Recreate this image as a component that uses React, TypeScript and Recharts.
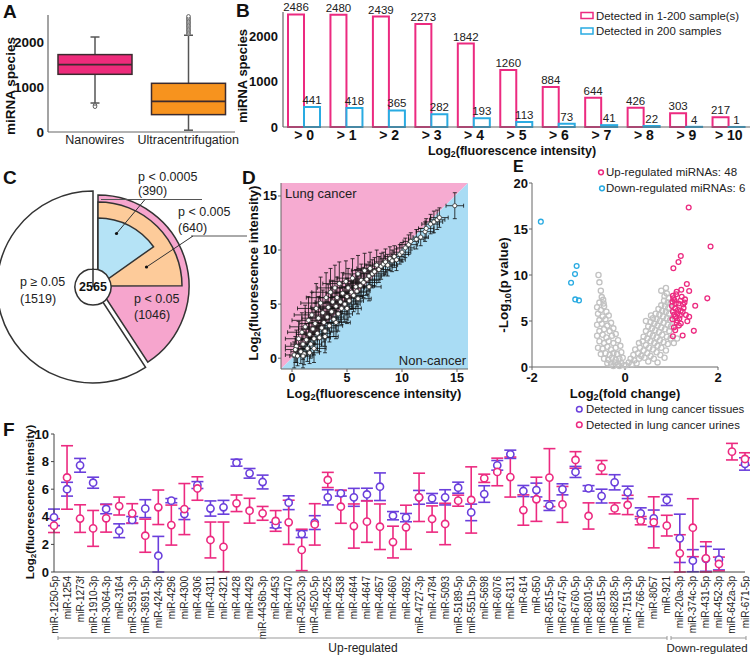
import React from "react";
import {
  Bar,
  BarChart,
  Cell,
  ComposedChart,
  ErrorBar,
  LabelList,
  Line,
  Pie,
  PieChart,
  ReferenceArea,
  Scatter,
  XAxis,
  YAxis,
} from "recharts";

const FONT = '"Liberation Sans", Arial, Helvetica, sans-serif';
const PINK = "#ec2a80";
const CYAN = "#29abe2";
const PURPLE = "#6a3fdc";
const INK = "#111";
const AXIS = "#666";

// ---- A: box plots
const boxGroups = ["Nanowires", "Ultracentrifugation"];
const boxLow = [644, 40];
const boxQ1 = [1282, 386];
const boxMedian = [1497, 682];
const boxQ3 = [1720, 1082];
const boxHigh = [2111, 2150];
const boxOutliers = [
  [592, 562],
  [2180, 2210, 2240, 2270, 2300, 2330, 2360, 2390, 2420, 2450, 2480, 2510, 2540, 2570],
];
const boxFills = ["#ee2b7b", "#f7931e"];

// ---- B: detected species by threshold
const thresholds = ["> 0", "> 1", "> 2", "> 3", "> 4", "> 5", "> 6", "> 7", "> 8", "> 9", "> 10"];
const inAnySample = [2486, 2480, 2439, 2273, 1842, 1260, 884, 644, 426, 303, 217];
const inAllSamples = [441, 418, 365, 282, 193, 113, 73, 41, 22, 4, 1];

// ---- C: p-value breakdown
const pTotal = 2565;
const pNotSig = 1519;
const pUnder05 = 1046;
const pUnder005 = 640;
const pUnder0005 = 390;

// ---- D: lung cancer vs non-cancer, [x, y, xErr, yErr]
const fluorPairs = [
  [0.2, 0.3, 0.8, 1.2], [0.4, 1.1, 1.0, 1.5], [0.5, 0.2, 0.7, 0.9], [0.6, 1.8, 1.2, 1.6],
  [0.8, 0.6, 0.9, 1.1], [0.9, 2.4, 1.3, 1.8], [1.0, 1.3, 1.1, 1.4], [1.1, 0.4, 0.8, 1.0],
  [1.2, 2.9, 1.4, 2.0], [1.3, 1.7, 1.0, 1.5], [1.4, 0.9, 0.9, 1.2], [1.5, 3.5, 1.5, 2.2],
  [1.6, 2.2, 1.2, 1.6], [1.7, 1.3, 1.0, 1.3], [1.8, 4.0, 1.6, 2.1], [1.9, 2.7, 1.3, 1.8],
  [2.0, 1.8, 1.1, 1.5], [2.1, 3.2, 1.4, 1.9], [2.2, 4.6, 1.7, 2.3], [2.3, 2.3, 1.2, 1.6],
  [2.4, 3.7, 1.5, 2.0], [2.5, 1.9, 1.0, 1.3], [2.6, 5.1, 1.8, 2.4], [2.7, 2.8, 1.3, 1.7],
  [2.8, 4.2, 1.6, 2.1], [2.9, 3.3, 1.4, 1.8], [3.0, 2.5, 1.1, 1.4], [3.1, 5.6, 1.8, 2.3],
  [3.2, 3.8, 1.5, 1.9], [3.3, 4.7, 1.6, 2.1], [3.4, 3.0, 1.2, 1.5], [3.5, 6.1, 1.7, 2.2],
  [3.6, 4.3, 1.5, 1.9], [3.7, 5.2, 1.6, 2.0], [3.8, 3.6, 1.3, 1.6], [3.9, 6.5, 1.6, 2.1],
  [4.0, 4.8, 1.5, 1.8], [4.1, 5.6, 1.6, 1.9], [4.2, 4.1, 1.3, 1.6], [4.3, 6.9, 1.5, 2.0],
  [4.4, 5.2, 1.4, 1.8], [4.5, 4.6, 1.3, 1.5], [4.6, 6.0, 1.5, 1.9], [4.8, 5.0, 1.4, 1.6],
  [4.9, 7.1, 1.5, 1.9], [5.0, 5.7, 1.4, 1.7], [5.1, 6.5, 1.5, 1.8], [5.2, 5.3, 1.3, 1.5],
  [5.4, 6.1, 1.4, 1.6], [5.5, 7.4, 1.4, 1.8], [5.6, 5.8, 1.3, 1.5], [5.8, 6.6, 1.3, 1.6],
  [5.9, 6.2, 1.2, 1.4], [6.0, 7.8, 1.3, 1.7], [6.2, 6.7, 1.3, 1.5], [6.3, 7.2, 1.2, 1.5],
  [6.5, 7.0, 1.2, 1.4], [6.6, 8.1, 1.2, 1.6], [6.8, 7.3, 1.2, 1.4], [7.0, 7.6, 1.1, 1.3],
  [7.1, 8.3, 1.2, 1.5], [7.3, 7.8, 1.1, 1.3], [7.5, 8.0, 1.1, 1.3], [7.7, 8.6, 1.1, 1.4],
  [7.9, 8.2, 1.0, 1.2], [8.1, 8.5, 1.0, 1.2], [8.3, 8.7, 1.0, 1.1], [8.5, 8.9, 1.0, 1.2],
  [8.7, 8.6, 0.9, 1.0], [8.9, 9.2, 0.9, 1.1], [9.1, 9.0, 0.9, 1.0], [9.3, 9.4, 0.9, 1.0],
  [9.5, 9.1, 0.8, 1.0], [9.8, 9.6, 0.8, 0.9], [10.0, 9.8, 0.8, 0.9], [10.3, 10.2, 0.8, 0.9],
  [10.6, 10.5, 0.8, 0.9], [10.8, 10.8, 0.7, 0.8], [11.3, 11.0, 0.7, 0.9], [11.7, 11.2, 0.7, 0.8],
  [12.1, 11.7, 0.8, 0.9], [12.2, 12.0, 0.7, 0.9], [12.6, 12.4, 0.8, 0.9], [12.9, 12.6, 0.8, 1.0],
  [13.2, 12.8, 0.7, 0.9], [13.4, 13.0, 0.8, 0.9], [14.8, 14.1, 0.8, 1.2], [1.0, 0.2, 0.9, 1.1],
  [3.0, 2.0, 1.2, 1.5], [4.0, 3.3, 1.3, 1.5], [5.0, 4.6, 1.3, 1.4], [6.0, 5.5, 1.2, 1.4],
  [7.0, 6.6, 1.1, 1.3], [2.0, 0.9, 1.1, 1.3], [0.3, 0.8, 0.9, 1.2], [1.6, 0.5, 0.9, 1.0],
];

// ---- E: volcano plot, [log2 fold change, -log10 p]
const volcanoGray = [
  [-0.57, 10.0], [-0.55, 9.2], [-0.52, 8.3], [-0.5, 7.6], [-0.55, 7.0], [-0.47, 7.3], [-0.45, 6.6],
  [-0.52, 6.2], [-0.58, 5.8], [-0.4, 6.0], [-0.48, 5.5], [-0.55, 5.1], [-0.42, 5.2], [-0.35, 5.6],
  [-0.6, 4.6], [-0.5, 4.7], [-0.38, 4.5], [-0.3, 4.8], [-0.45, 4.1], [-0.55, 3.9], [-0.33, 3.9],
  [-0.25, 4.2], [-0.6, 3.4], [-0.48, 3.5], [-0.4, 3.2], [-0.28, 3.4], [-0.2, 3.6], [-0.55, 2.8],
  [-0.45, 2.6], [-0.35, 2.8], [-0.25, 2.6], [-0.15, 2.9], [-0.58, 2.1], [-0.48, 2.0], [-0.38, 2.2],
  [-0.3, 1.9], [-0.2, 2.1], [-0.1, 2.3], [-0.52, 1.4], [-0.42, 1.5], [-0.33, 1.3], [-0.25, 1.5],
  [-0.17, 1.4], [-0.08, 1.6], [-0.45, 0.9], [-0.36, 0.8], [-0.28, 1.0], [-0.2, 0.8], [-0.12, 0.9],
  [-0.05, 1.0], [-0.38, 0.4], [-0.3, 0.3], [-0.22, 0.5], [-0.15, 0.3], [-0.08, 0.4], [-0.02, 0.2],
  [-0.25, 0.1], [-0.12, 0.1], [-0.46, 6.9], [-0.6, 6.5],
  [0.02, 0.2], [0.08, 0.5], [0.15, 0.3], [0.12, 0.9], [0.2, 0.7], [0.25, 0.4], [0.3, 0.9],
  [0.18, 1.3], [0.28, 1.5], [0.35, 1.2], [0.42, 1.0], [0.5, 0.6], [0.22, 1.9], [0.32, 2.1],
  [0.4, 1.8], [0.48, 1.5], [0.55, 1.2], [0.62, 0.9], [0.7, 0.5], [0.3, 2.6], [0.38, 2.8],
  [0.45, 2.4], [0.52, 2.1], [0.6, 1.9], [0.68, 1.6], [0.76, 1.3], [0.85, 1.0], [0.4, 3.3],
  [0.48, 3.1], [0.55, 2.8], [0.63, 2.6], [0.7, 2.3], [0.78, 2.1], [0.88, 1.8], [0.45, 3.9],
  [0.53, 3.6], [0.6, 3.4], [0.68, 3.2], [0.75, 2.9], [0.83, 2.7], [0.92, 2.5], [0.5, 4.4],
  [0.58, 4.2], [0.65, 4.0], [0.73, 3.8], [0.8, 3.5], [0.9, 3.3], [0.98, 3.1], [0.55, 4.9],
  [0.63, 4.7], [0.7, 4.5], [0.78, 4.3], [0.86, 4.1], [0.95, 3.9], [0.6, 5.3], [0.68, 5.2],
  [0.75, 5.0], [0.83, 4.8], [0.92, 4.6], [0.99, 4.4], [0.66, 5.8], [0.74, 5.7], [0.82, 5.5],
  [0.9, 5.3], [0.97, 5.1], [0.72, 6.3], [0.8, 6.1], [0.88, 6.0], [0.95, 5.8], [0.78, 6.7],
  [0.86, 6.6], [0.93, 6.4], [0.84, 7.2], [0.92, 7.0], [0.98, 6.9], [0.85, 7.7], [0.94, 7.5],
  [0.78, 8.3], [0.9, 8.0], [0.88, 8.6], [1.12, 3.1], [1.05, 2.6], [0.56, 5.6], [0.45, 5.0],
];
const volcanoUp = [
  [1.37, 17.34], [1.84, 13.09], [1.2, 12.07], [1.15, 11.42], [1.04, 10.73], [1.33, 9.02],
  [1.11, 8.18], [1.38, 8.26], [1.77, 7.46], [1.03, 7.75], [1.22, 7.64], [1.29, 7.35],
  [1.06, 7.27], [1.15, 6.91], [1.01, 6.62], [1.25, 6.8], [1.51, 6.65], [1.08, 6.37],
  [1.2, 6.11], [1.03, 6.0], [1.13, 5.82], [1.24, 6.0], [1.31, 5.64], [1.08, 5.45],
  [1.38, 5.45], [1.17, 5.27], [1.34, 4.98], [1.11, 4.8], [1.2, 4.73], [1.48, 3.93],
  [1.08, 4.0], [1.03, 3.35], [1.24, 3.42], [1.04, 7.46], [1.02, 7.1], [1.09, 6.9],
  [1.14, 6.2], [1.06, 5.7], [1.18, 5.6], [1.26, 6.4], [1.1, 7.9], [1.21, 8.4],
  [1.16, 4.5], [1.02, 5.2], [1.28, 7.0], [1.12, 5.05], [1.05, 4.3], [1.19, 7.2],
];
const volcanoDown = [
  [-1.81, 15.8], [-1.04, 10.98], [-1.075, 10.1], [-1.16, 9.16], [-1.07, 7.35], [-0.99, 7.24],
];

// ---- F: candidate miRNAs
const mirNames = [
  "miR-1250-5p", "miR-1254", "miR-1273f", "miR-1910-3p", "miR-3064-3p", "miR-3164",
  "miR-3591-3p", "miR-3691-5p", "miR-424-3p", "miR-4296", "miR-4300", "miR-4306",
  "miR-4311", "miR-4321", "miR-4428", "miR-4429", "miR-4436b-3p", "miR-4453",
  "miR-4470", "miR-4520-3p", "miR-4520-5p", "miR-4525", "miR-4538", "miR-4644",
  "miR-4647", "miR-4657", "miR-4660", "miR-4692", "miR-4727-3p", "miR-4784",
  "miR-5093", "miR-5189-5p", "miR-551b-5p", "miR-5698", "miR-6076", "miR-6131",
  "miR-614", "miR-650", "miR-6515-5p", "miR-6747-5p", "miR-6760-5p", "miR-6801-5p",
  "miR-6815-5p", "miR-6828-5p", "miR-7151-3p", "miR-766-5p", "miR-8057", "miR-921",
  "miR-20a-3p", "miR-374c-3p", "miR-431-5p", "miR-452-3p", "miR-642a-3p", "miR-671-5p",
];
const tissueMean = [
  3.96, 6.0, 7.73, 6.47, 4.57, 2.99, 3.77, 4.59, 1.18, 5.17, 4.2, 6.3,
  4.6, 4.69, 7.92, 7.15, 6.52, 3.4, 5.02, 2.75, 3.58, 5.41, 5.7, 5.41,
  5.62, 6.18, 4.08, 3.94, 5.41, 5.34, 5.41, 6.11, 4.32, 5.65, 7.73, 8.53,
  5.87, 5.94, 4.81, 5.99, 7.25, 6.06, 5.5, 6.5, 5.77, 4.25, 3.89, 5.22,
  2.44, 0.82, 0.95, 0.9, null, 7.83,
];
const tissueSd: any[] = [
  0.6, 0.5, 0.5, 0.4, 0.35, 0.5, 0.25, 0.65, [1.18, 1.4], 0.15, 0.4, 0.25,
  0.55, 0.5, 0.25, 0.35, 0.5, 0.2, 0.5, 0.25, 0.5, 0.55, 0.2, 0.65,
  0.45, 1.0, 0.3, 0.3, 0.5, 0.35, 0.55, 0.4, 0.6, 0.6, 0.35, 0.3,
  0.4, 0.5, 0.35, 0.4, 0.4, 0.2, 0.5, 0.55, 0.45, 0.4, 0.6, 0.4,
  1.75, 0.8, 0.9, 0.75, null, 0.45,
];
const urineMean = [
  3.36, 6.85, 3.87, 3.16, 3.89, 4.78, 4.25, 2.63, 4.69, 3.4, 4.56, 6.05,
  2.32, 1.82, 4.98, 4.44, 4.25, 3.7, 3.6, 1.6, 3.45, 6.67, 4.73, 3.33,
  3.65, 3.28, 2.17, 3.24, 5.41, 3.84, 3.48, 5.17, 5.22, 6.79, 7.25, 6.88,
  4.49, 5.27, 6.84, 4.9, 8.12, 4.06, 7.58, 4.61, 4.86, 3.72, 3.6, 3.36,
  1.35, 3.21, 0.99, 0.58, 8.72, 8.19,
];
const urineSd: any[] = [
  0.5, 2.3, 1.0, 1.3, 1.0, 0.65, 0.7, 1.2, 1.25, 1.45, 1.85, 0.85,
  1.3, 1.8, 0.6, 0.9, 0.5, 0.75, 1.6, 1.5, 1.5, 0.55, 1.2, 1.6,
  1.5, 1.65, 1.15, 1.6, 1.75, 0.95, 1.5, 0.4, 2.4, 0.3, 1.0, 1.45,
  1.1, 1.6, 2.1, 1.3, 0.6, 0.95, 0.5, 0.4, 0.7, 0.3, 1.85, 0.75,
  1.35, 2.1, [0.99, 1.2], 0.5, 0.6, 0.45,
];

const boldTick = (size: number) => ({ fill: INK, fontSize: size, fontWeight: 700, fontFamily: FONT });

function BoxShape(props: any) {
  const { x, y, width, height, payload, fill } = props;
  const [lo, hi] = payload.range;
  const top = Math.min(y, y + height);
  const k = Math.abs(height) / (hi - lo);
  const py = (v: number) => top + (hi - v) * k;
  const cx = x + width / 2;
  const edge = "#3b2b2f";
  return (
    <g>
      <line x1={cx} x2={cx} y1={py(hi)} y2={py(payload.q3)} stroke="#555" strokeWidth={1.5} />
      <line x1={cx} x2={cx} y1={py(payload.q1)} y2={py(lo)} stroke="#555" strokeWidth={1.5} />
      <line x1={cx - 4.5} x2={cx + 4.5} y1={py(hi)} y2={py(hi)} stroke="#555" strokeWidth={1.5} />
      <line x1={cx - 4.5} x2={cx + 4.5} y1={py(lo)} y2={py(lo)} stroke="#555" strokeWidth={1.5} />
      <rect x={x} y={py(payload.q3)} width={width} height={py(payload.q1) - py(payload.q3)} fill={fill} stroke={edge} strokeWidth={1.5} />
      <line x1={x} x2={x + width} y1={py(payload.median)} y2={py(payload.median)} stroke={edge} strokeWidth={1.8} />
      {payload.outliers.map((o: number, i: number) => (
        <circle key={i} cx={cx} cy={py(o)} r={1.8} fill="#fff" stroke="#555" strokeWidth={0.9} />
      ))}
    </g>
  );
}

function PanelA() {
  const rows = boxGroups.map((name, i) => ({
    name,
    range: [boxLow[i], boxHigh[i]],
    q1: boxQ1[i],
    median: boxMedian[i],
    q3: boxQ3[i],
    outliers: boxOutliers[i],
  }));
  return (
    <div style={{ position: "absolute", left: 0, top: 0 }}>
      <BarChart width={240} height={150} data={rows} margin={{ top: 15, right: 5, left: 0, bottom: 0 }}>
        <XAxis dataKey="name" height={18} tickLine={false} tickSize={0} tickMargin={3} axisLine={{ stroke: AXIS, strokeWidth: 1.2 }} tick={{ fill: "#222", fontSize: 12.5, fontFamily: FONT }} />
        <YAxis domain={[0, 2600]} ticks={[0, 1000, 2000]} width={48} tickLine={false} tickSize={0} tickMargin={4} axisLine={{ stroke: AXIS, strokeWidth: 1.2 }} tick={boldTick(13.5)} />
        <Bar dataKey="range" barSize={74} shape={BoxShape} isAnimationActive={false}>
          {rows.map((r, i) => (
            <Cell key={r.name} fill={boxFills[i]} />
          ))}
        </Bar>
      </BarChart>
    </div>
  );
}

function PanelB() {
  const rows = thresholds.map((t, i) => ({ t, any: inAnySample[i], all: inAllSamples[i] }));
  return (
    <div style={{ position: "absolute", left: 240, top: 0 }}>
      <BarChart width={510} height={150} data={rows} margin={{ top: 12, right: 0, left: 0, bottom: 0 }} barGap={0} barSize={16}>
        <XAxis dataKey="t" height={23} tickLine={false} tickSize={0} tickMargin={3} axisLine={{ stroke: AXIS, strokeWidth: 1.2 }} tick={boldTick(14)} interval={0} />
        <YAxis domain={[0, 2540]} ticks={[0, 1000, 2000]} width={43} tickLine={false} tickSize={0} tickMargin={5} axisLine={{ stroke: AXIS, strokeWidth: 1.2 }} tick={boldTick(13)} />
        <Bar dataKey="any" fill="#fff" stroke={PINK} strokeWidth={2} isAnimationActive={false}>
          <LabelList dataKey="any" position="top" offset={3} fontSize={11.5} fill="#222" fontFamily={FONT} />
        </Bar>
        <Bar dataKey="all" fill="#fff" stroke={CYAN} strokeWidth={2} isAnimationActive={false}>
          <LabelList dataKey="all" position="top" offset={3} fontSize={11.5} fill="#222" fontFamily={FONT} />
        </Bar>
      </BarChart>
    </div>
  );
}

function PanelC() {
  const outer = [
    { name: "p < 0.05", value: pUnder05 },
    { name: "p ≥ 0.05", value: pNotSig },
  ];
  const mid = [
    { name: "p < 0.005", value: pUnder005 },
    { name: "rest", value: pTotal - pUnder005 },
  ];
  const inner = [
    { name: "p < 0.0005", value: pUnder0005 },
    { name: "rest", value: pTotal - pUnder0005 },
  ];
  const edge = "#333";
  const common = { startAngle: 90, endAngle: -270, dataKey: "value", isAnimationActive: false, label: false, labelLine: false } as any;
  return (
    <div style={{ position: "absolute", left: 0, top: 185 }}>
      <PieChart width={200} height={210} margin={{ top: 0, right: 0, bottom: 0, left: 0 }}>
        <Pie {...common} data={outer} cx={93} cy={102} outerRadius={96}>
          <Cell fill="none" stroke="none" />
          <Cell fill="#fff" stroke={edge} strokeWidth={1.5} />
        </Pie>
        <Pie {...common} data={outer} cx={98} cy={101} outerRadius={91}>
          <Cell fill="#f6a5cd" stroke={edge} strokeWidth={1.5} />
          <Cell fill="none" stroke="none" />
        </Pie>
        <Pie {...common} data={mid} cx={98} cy={101} outerRadius={84}>
          <Cell fill="#fdcb9a" stroke={edge} strokeWidth={1.5} />
          <Cell fill="none" stroke="none" />
        </Pie>
        <Pie {...common} data={inner} cx={98} cy={101} outerRadius={68}>
          <Cell fill="#b5e3f6" stroke={edge} strokeWidth={1.5} />
          <Cell fill="none" stroke="none" />
        </Pie>
        <Pie {...common} data={[{ name: "total", value: pTotal }]} cx={93} cy={102} outerRadius={18}>
          <Cell fill="#fff" stroke={edge} strokeWidth={1.5} />
        </Pie>
      </PieChart>
    </div>
  );
}

function SplitBackground(props: any) {
  const { x, y, width, height } = props;
  const l = x;
  const r = x + width;
  const t = y;
  const b = y + height;
  return (
    <g>
      <polygon points={`${l},${b} ${l},${t} ${r},${t}`} fill="#f6abd1" />
      <polygon points={`${l},${b} ${r},${b} ${r},${t}`} fill="#a9dcf4" />
    </g>
  );
}

function PanelD() {
  const rows = fluorPairs.map(([x, y, ex, ey]) => ({ x, y, ex, ey }));
  return (
    <div style={{ position: "absolute", left: 240, top: 175 }}>
      <ComposedChart width={232} height={220} margin={{ top: 8, right: 4, left: 0, bottom: 0 }}>
        <XAxis type="number" dataKey="x" domain={[-1, 16]} ticks={[0, 5, 10, 15]} height={26} tickSize={3} tickMargin={1} stroke={AXIS} tick={boldTick(12.5)} />
        <YAxis type="number" dataKey="y" domain={[-1, 16.2]} ticks={[0, 5, 10, 15]} width={41} tickSize={3} tickMargin={1} stroke={AXIS} tick={boldTick(12.5)} />
        <ReferenceArea x1={-1} x2={16} y1={-1} y2={16.2} ifOverflow="visible" shape={SplitBackground} />
        <Scatter
          data={rows}
          isAnimationActive={false}
          shape={(p: any) => <circle cx={p.cx} cy={p.cy} r={2.1} fill="#fff" stroke="#333" strokeWidth={0.8} />}
        >
          <ErrorBar dataKey="ex" direction="x" width={2} stroke="#111" strokeWidth={0.8} />
          <ErrorBar dataKey="ey" direction="y" width={2} stroke="#111" strokeWidth={0.8} />
        </Scatter>
      </ComposedChart>
    </div>
  );
}

function ring(color: string, r: number) {
  return (p: any) => <circle cx={p.cx} cy={p.cy} r={r} fill="none" stroke={color} strokeWidth={1.3} />;
}

function PanelE() {
  const toRows = (list: number[][]) => list.map(([x, y]) => ({ x, y }));
  return (
    <div style={{ position: "absolute", left: 490, top: 175 }}>
      <ComposedChart width={240} height={215} margin={{ top: 8, right: 12, left: 0, bottom: 0 }}>
        <XAxis type="number" dataKey="x" domain={[-2, 2]} ticks={[-2, 0, 2]} height={23} tickSize={3} tickMargin={3} stroke={AXIS} tick={boldTick(13)} />
        <YAxis type="number" dataKey="y" domain={[0, 20]} ticks={[0, 5, 10, 15, 20]} width={42} tickSize={3} tickMargin={1} stroke={AXIS} tick={boldTick(13)} />
        <Scatter data={toRows(volcanoGray)} isAnimationActive={false} shape={ring("#c2c2c2", 2.6)} />
        <Scatter data={toRows(volcanoUp)} isAnimationActive={false} shape={ring(PINK, 2.4)} />
        <Scatter data={toRows(volcanoDown)} isAnimationActive={false} shape={ring(CYAN, 2.4)} />
      </ComposedChart>
    </div>
  );
}

function MirTick(props: any) {
  const { x, y, payload } = props;
  return (
    <text x={x} y={y} transform={`rotate(-90, ${x}, ${y})`} textAnchor="end" dy="0.35em" fontSize={10} fill="#222" fontFamily={FONT}>
      {payload.value}
    </text>
  );
}

function PanelF() {
  const rows = mirNames.map((name, i) => ({
    name,
    tissue: tissueMean[i],
    tissueErr: tissueSd[i],
    urine: urineMean[i],
    urineErr: urineSd[i],
  }));
  return (
    <div style={{ position: "absolute", left: 0, top: 425 }}>
      <ComposedChart width={750} height={230} data={rows} margin={{ top: 9, right: 5, left: 0, bottom: 0 }}>
        <XAxis dataKey="name" interval={0} height={83} tickLine={false} tickSize={0} tickMargin={4} axisLine={{ stroke: "#444", strokeWidth: 1.2 }} tick={MirTick} />
        <YAxis domain={[0, 10]} ticks={[0, 2, 4, 6, 8, 10]} width={54} tickSize={3} tickMargin={2} stroke="#444" tick={boldTick(13)} />
        <Line dataKey="tissue" stroke="none" isAnimationActive={false} activeDot={false} dot={{ r: 3.6, fill: "#fff", stroke: PURPLE, strokeWidth: 1.6 }}>
          <ErrorBar dataKey="tissueErr" direction="y" width={6} stroke={PURPLE} strokeWidth={1.6} />
        </Line>
        <Line dataKey="urine" stroke="none" isAnimationActive={false} activeDot={false} dot={{ r: 3.6, fill: "#fff", stroke: PINK, strokeWidth: 1.6 }}>
          <ErrorBar dataKey="urineErr" direction="y" width={6} stroke={PINK} strokeWidth={1.6} />
        </Line>
      </ComposedChart>
    </div>
  );
}

function LogTitle({ x, y, size, pre = "", sub, rest, rotate = false }: any) {
  return (
    <text
      transform={`translate(${x},${y})${rotate ? " rotate(-90)" : ""}`}
      textAnchor="middle"
      dominantBaseline="central"
      fontSize={size}
      fontWeight={700}
      fill={INK}
    >
      <tspan>{pre}Log</tspan>
      <tspan fontSize={size * 0.7} dy={size * 0.3}>{sub}</tspan>
      <tspan dy={-size * 0.3}>{rest}</tspan>
    </text>
  );
}

function Overlay() {
  const letter = { fontSize: 19, fontWeight: 700, fill: INK };
  const note = { fontSize: 12.5, fill: "#222" };
  const legend = { fontSize: 11.4, fill: "#222", dominantBaseline: "central" as const };
  return (
    <svg width={750} height={655} style={{ position: "absolute", left: 0, top: 0, pointerEvents: "none", fontFamily: FONT }}>
      <text x={3} y={18} {...letter}>A</text>
      <text x={236} y={17} {...letter}>B</text>
      <text x={3} y={184} {...letter}>C</text>
      <text x={242} y={184} {...letter}>D</text>
      <text x={513} y={172.3} {...letter} fontSize={16}>E</text>
      <text x={3} y={436} {...letter}>F</text>

      <text transform="translate(10,86) rotate(-90)" textAnchor="middle" dominantBaseline="central" fontSize={13.5} fontWeight={700} fill={INK}>miRNA species</text>
      <text transform="translate(242,76) rotate(-90)" textAnchor="middle" dominantBaseline="central" fontSize={13} fontWeight={700} fill={INK}>miRNA species</text>
      <LogTitle x={512} y={150.5} size={12.5} sub="2" rest="(fluorescence intensity)" />

      <rect x={581} y={12.5} width={12} height={6} fill="#fff" stroke={PINK} strokeWidth={1.5} />
      <text x={596} y={15.7} {...legend}>Detected in 1-200 sample(s)</text>
      <rect x={581} y={28} width={12} height={6} fill="#fff" stroke={CYAN} strokeWidth={1.5} />
      <text x={596} y={31} {...legend}>Detected in 200 samples</text>

      <text x={138} y={181} {...note}>p &lt; 0.0005</text>
      <text x={138} y={195} {...note}>(390)</text>
      <line x1={101} x2={202} y1={199.5} y2={199.5} stroke="#555" strokeWidth={1} />
      <line x1={116.5} y1={233.5} x2={145} y2={199.5} stroke="#333" strokeWidth={1} />
      <circle cx={116.5} cy={233.5} r={1.6} fill="#111" />
      <text x={178} y={216} {...note}>p &lt; 0.005</text>
      <text x={178} y={231.5} {...note}>(640)</text>
      <line x1={191} x2={247} y1={236} y2={236} stroke="#555" strokeWidth={1} />
      <line x1={146.5} y1={267} x2={193} y2={236} stroke="#333" strokeWidth={1} />
      <circle cx={146.5} cy={267} r={1.6} fill="#111" />
      <text x={20} y={286} {...note}>p ≥ 0.05</text>
      <text x={20} y={302.5} {...note}>(1519)</text>
      <text x={134} y={302.5} {...note}>p &lt; 0.05</text>
      <text x={134} y={318.5} {...note}>(1046)</text>
      <text x={93} y={287} textAnchor="middle" dominantBaseline="central" fontSize={12.5} fontWeight={700} fill={INK}>2565</text>

      <text x={285} y={193} dominantBaseline="central" fontSize={13} fill="#222">Lung cancer</text>
      <text x={466} y={360} textAnchor="end" dominantBaseline="central" fontSize={13} fill="#222">Non-cancer</text>
      <LogTitle x={374} y={393} size={13} sub="2" rest="(fluorescence intensity)" />
      <LogTitle x={253} y={273} size={13} sub="2" rest="(fluorescence intensity)" rotate />

      <circle cx={601} cy={172.3} r={2.4} fill="none" stroke={PINK} strokeWidth={1.5} />
      <text x={606} y={172.3} {...legend} fontSize={11.5}>Up-regulated miRNAs: 48</text>
      <circle cx={602} cy={188.3} r={2.4} fill="none" stroke={CYAN} strokeWidth={1.5} />
      <text x={606} y={188.3} {...legend} fontSize={11.5}>Down-regulated miRNAs: 6</text>
      <LogTitle x={503} y={285} size={13.5} pre="-" sub="10" rest="(p value)" rotate />
      <LogTitle x={625} y={393} size={13} sub="2" rest="(fold change)" />

      <circle cx={579.3} cy={409.3} r={2.8} fill="none" stroke={PURPLE} strokeWidth={1.5} />
      <text x={586} y={409.3} {...legend}>Detected in lung cancer tissues</text>
      <circle cx={579.3} cy={424.8} r={2.8} fill="none" stroke={PINK} strokeWidth={1.5} />
      <text x={586} y={424.8} {...legend}>Detected in lung cancer urines</text>
      <LogTitle x={30} y={502} size={11.5} sub="2" rest="(fluorescence intensity)" rotate />

      <line x1={58} x2={667} y1={638} y2={638} stroke="#999" strokeWidth={1} />
      <line x1={58} x2={58} y1={636} y2={640} stroke="#999" strokeWidth={1} />
      <line x1={667} x2={667} y1={636} y2={640} stroke="#999" strokeWidth={1} />
      <line x1={671} x2={746} y1={638} y2={638} stroke="#999" strokeWidth={1} />
      <line x1={671} x2={671} y1={636} y2={640} stroke="#999" strokeWidth={1} />
      <line x1={746} x2={746} y1={636} y2={640} stroke="#999" strokeWidth={1} />
      <text x={363} y={648} textAnchor="middle" dominantBaseline="central" fontSize={12} fill="#222">Up-regulated</text>
      <text x={707} y={648} textAnchor="middle" dominantBaseline="central" fontSize={11.5} fill="#222">Down-regulated</text>
    </svg>
  );
}

export default function App() {
  return (
    <div style={{ position: "absolute", left: 0, top: 0, width: 750, height: 655, background: "#fff", overflow: "hidden", fontFamily: FONT }}>
      <PanelA />
      <PanelB />
      <PanelC />
      <PanelD />
      <PanelE />
      <PanelF />
      <Overlay />
    </div>
  );
}
